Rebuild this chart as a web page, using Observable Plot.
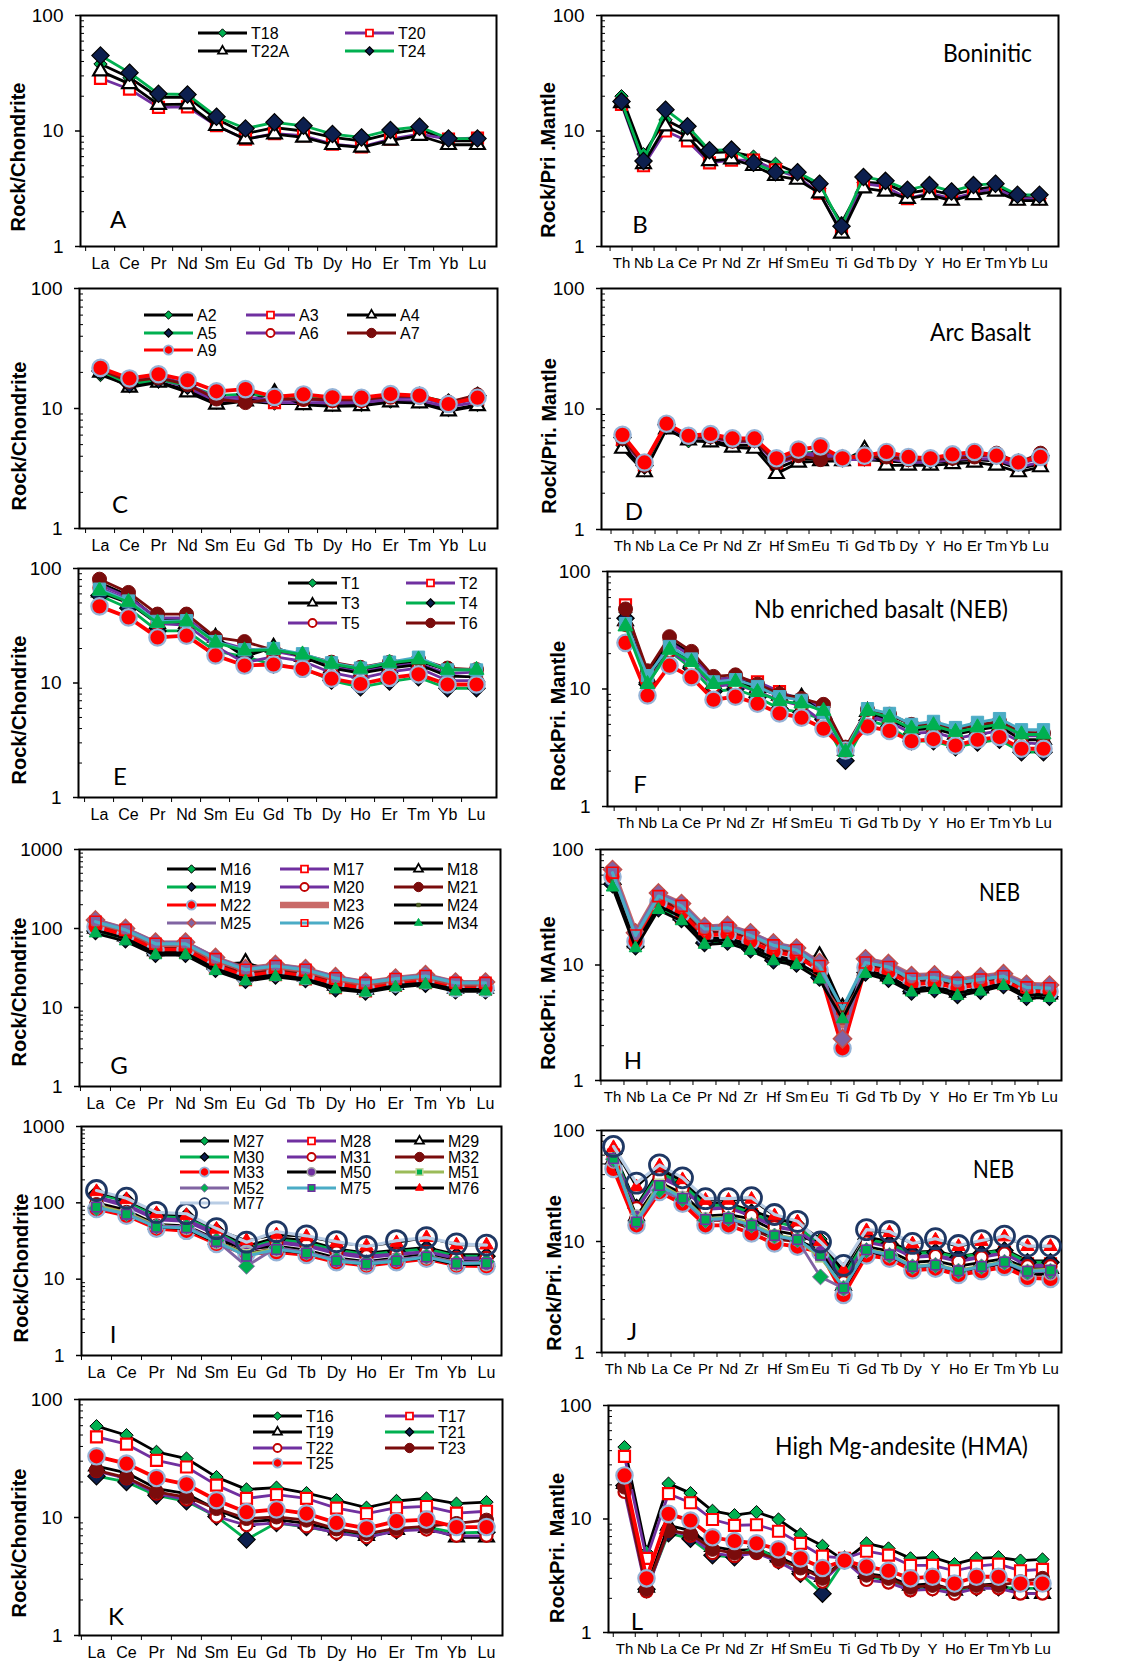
<!DOCTYPE html>
<html><head><meta charset="utf-8">
<script src="https://cdn.jsdelivr.net/npm/d3@7"></script>
<script src="https://cdn.jsdelivr.net/npm/@observablehq/plot@0.6"></script>
<style>
body{margin:0;background:#fff;}
#fig{position:relative;width:1121px;height:1663px;overflow:hidden;background:#fff;font-family:"Liberation Sans",Arial,sans-serif;}
</style></head><body><div id="fig"></div><script>
// ---------- categories ----------
const REE = ["La","Ce","Pr","Nd","Sm","Eu","Gd","Tb","Dy","Ho","Er","Tm","Yb","Lu"];
const PM = ["Th","Nb","La","Ce","Pr","Nd","Zr","Hf","Sm","Eu","Ti","Gd","Tb","Dy","Y","Ho","Er","Tm","Yb","Lu"];

// ---------- data (normalised values) ----------
const dataA = {
  T18: [38,29,19.6,19.6,12.7,9.5,10.7,10,8.8,8.2,9.5,10.4,8.2,8.2],
  T20: [28.6,23,16,16.2,11.1,8.5,9.5,9.1,7.7,7.3,8.5,9.4,8.5,8.7],
  T22A: [33,25.6,16.9,17.1,11.1,8.5,9.4,8.8,7.6,7.2,8.3,9.1,7.6,7.6],
  T24: [45,32,21,20.7,13.3,10.5,11.9,11.1,9.4,8.8,10.2,10.9,8.6,8.6]
};
const dataB = {
  T18: [20,6.3,12.5,10,6.5,6.6,6.0,5.2,4.3,3.2,1.6,3.6,3.5,2.9,3.1,2.8,3.1,3.3,2.7,2.6],
  T20: [17,5.0,10,8.2,5.3,5.6,5.6,4.6,4.0,2.9,1.35,3.5,3.3,2.6,2.9,2.6,2.9,3.2,2.6,2.6],
  T22A: [17.5,5.2,11,9,5.5,5.7,5.0,4.1,3.8,2.9,1.3,3.2,3.0,2.6,2.8,2.5,2.8,3.0,2.5,2.5],
  T24: [18,5.5,15.3,11,6.8,6.9,5.3,4.4,4.4,3.5,1.5,4.0,3.7,3.1,3.4,3.0,3.4,3.5,2.8,2.8]
};
const dataC = {
  A2: [19,15.6,16.7,14.2,11.2,11.5,11,11,10.7,10.7,11.4,11.4,9.7,10.7],
  A3: [21,16.5,17.5,15,11.5,12,11.2,11.2,11,11.2,11.7,11.6,10.3,11.3],
  A4: [20,15,16.5,13.7,10.8,11.5,13.5,10.7,10.4,10.5,11.3,11.1,9.5,10.5],
  A5: [20.5,16,17.5,15.5,12.8,13.2,12.8,12.5,12,11.8,13,12.8,11.2,12.8],
  A6: [21.5,17,18.5,16,12.2,12.5,11.7,11.8,11.5,11.5,12.3,12.3,10.7,12],
  A7: [21,16.8,18,15.8,12,11.2,12,12,11.8,11.8,12.6,12.6,11.3,13],
  A9: [21.8,17.8,19.3,17.2,13.9,14.5,12.5,13.1,12.4,12.3,13.2,12.8,10.9,12.3]
};
const dataD = {
  A2: [5.0,3.1,7.0,5.4,5.5,5.0,5.0,3.2,3.8,3.9,3.8,3.8,3.7,3.6,3.6,3.7,3.8,3.7,3.2,3.5],
  A3: [5.6,3.3,7.3,5.7,5.8,5.3,5.4,3.5,4.0,4.1,3.8,3.8,3.9,3.6,3.6,3.8,3.9,3.8,3.3,3.6],
  A4: [4.7,3.0,6.8,5.5,5.3,4.8,4.7,2.9,3.6,3.7,3.7,4.6,3.4,3.4,3.4,3.5,3.6,3.4,3.0,3.3],
  A5: [5.8,3.4,7.4,5.9,6.0,5.6,5.6,3.8,4.3,4.4,3.9,4.2,4.2,3.9,3.8,4.0,4.2,4.1,3.6,4.1],
  A6: [5.9,3.5,7.4,5.8,6.0,5.5,5.5,3.7,4.2,4.3,3.9,4.0,4.1,3.8,3.8,4.0,4.1,4.0,3.5,3.9],
  A7: [5.7,3.4,7.5,5.8,5.9,5.4,5.5,3.6,4.1,3.8,3.9,4.0,4.0,3.8,3.8,3.9,4.0,4.3,3.6,4.3],
  A9: [6.1,3.6,7.55,6.0,6.2,5.7,5.7,3.9,4.6,4.9,3.9,4.1,4.4,4.0,3.9,4.2,4.4,4.1,3.6,4.0]
};
const dataE = {
  T1: [75,58,36,36,24,18.5,19.8,17.5,14.5,13,14.5,15.5,13,13],
  T2: [72,56,37,37,23.5,20,19,17,13.8,12.5,13.8,14.8,12,12.5],
  T3: [62,50,33,33,25,17,20.5,17,13.5,12.2,13.5,14.5,11.5,11.3],
  T4: [58,45,28.5,28.5,19,17,14.5,13.5,10.5,9.2,10.3,11.2,9.0,9.0],
  T5: [68,53,33,32,21,15,17,15.5,12.3,11,12.5,13.5,10.5,10.5],
  T6: [80.7,61.8,40,40,25,23,19.4,17.7,15.2,13.7,15.2,16.2,13.5,13.1],
  x1: [46.7,37.4,25,25.9,17.4,14.2,14.5,13.3,10.9,9.8,11.1,11.9,9.7,9.7],
  x2: [66,52,34.5,35,23,19.5,20,18,15,13.5,15.2,16.8,13,13],
  x3: [64,51,33.5,34.5,22.5,19.2,19.5,17.7,14.7,13.3,15,16,13,13]
};
const dataF = {
  T1: [45,13.5,26,20,12,12.5,10.8,9,8.5,7,3.0,6.8,6.0,5.0,5.0,4.5,4.9,5.2,4.2,4.2],
  T2: [52,12,25,19,12,12.5,11.5,9.5,8,7,3.1,6,5.5,4.6,4.8,4.2,4.6,5,4,4],
  T3: [38,12.5,22,17,11,11.5,10.2,8.8,8.5,6.2,3.0,6.4,5.5,4.5,4.6,4.1,4.5,4.8,3.7,3.7],
  T4: [40,11,21,15,9.5,10,8.5,6.8,6.3,5.5,2.45,5.4,4.8,3.6,3.6,3.2,3.5,3.7,2.9,2.9],
  T5: [35,11.5,21,16,10.5,11,9.5,8,7.2,5.2,2.9,5.8,5.2,4.2,4.3,3.8,4.1,4.4,3.5,3.4],
  T6: [48,14.3,27.9,20.9,12.8,13.2,11,9.1,8.3,7.4,3.2,6.7,6.1,5.0,5.0,4.6,4.95,5.3,4.3,4.2],
  x1: [24.7,8.8,15.8,12.6,8.1,8.6,7.5,6.2,5.7,4.6,3.0,4.8,4.4,3.6,3.75,3.3,3.7,3.9,3.1,3.1],
  x2: [36,13,23,18,11.5,12,10.5,8.6,8.0,6.3,3.0,6.8,6.2,5.0,5.3,4.7,5.2,5.6,4.5,4.5],
  x3: [34,11,21.5,16.9,11,11.5,9.4,7.9,7.5,6.5,2.9,6.5,5.7,4.6,4.9,4.3,4.7,5.0,4.1,4.1]
};
const dataG = {
  M16: [97,76,50,50,32,24,26.5,24,18.5,16.5,19,20.5,17,17],
  M17: [102,80,51,51,32,22.5,26,23,17.8,16.2,19,20.7,17,17],
  M18: [100,80,52,52,35,37,28,25,19,17,19.5,21,17.5,17.5],
  M19: [93,73,48,48,31,22.5,25.5,23,17.5,16,18.5,20,16.5,16.5],
  M20: [120,94,62,63,40,29,33,29.5,23,20,22.5,24.5,20,20],
  M21: [110,86,57,57,36,27,30,27,21,18.5,21,23,18.5,18.5],
  M22: [105,82,54,54,34,25,28,25,20,17.5,20,22,17.5,17.5],
  M23: [123,96,64,64,41,30.5,33.5,30,23.5,20.3,23,25,20.3,20.3],
  M24: [95,75,49,49,31,23,26,23,18,16,19,20.5,17,17],
  M25: [128,100,67,67,43,31,35,31,24.5,21,23.5,26,21,21],
  M26: [122,96,64,64,41,30,33.5,30,23.5,20.5,23,25,20.5,20.5],
  M34: [87,69,46,46,29,21.5,24.5,22,17,15.5,18,19.5,16,16]
};
const dataH = {
  M16: [52,15,32,26,16,16.5,14,11.5,10.5,8,4.2,8.8,7.8,6.0,6.3,5.6,6.1,6.8,5.4,5.4],
  M17: [60,15.5,33,26,16.5,17,15,12,10.8,8,4.3,9,8,6.2,6.5,5.7,6.3,6.9,5.6,5.6],
  M18: [55,15.5,33,27,17,17,15,12,11,12,4.3,9,8,6.2,6.5,5.8,6.3,6.9,5.6,5.6],
  M19: [50,14.5,31,25,15.5,16,13.7,11,10.3,7.8,4.0,8.6,7.6,5.9,6.2,5.5,6.0,6.7,5.3,5.3],
  M20: [62,18,39,32,20,21,18,15,13.5,10,2.8,10.8,9.8,7.8,8,7.1,7.6,8.1,6.5,6.5],
  M21: [60,17,37,30,19,19.5,17,14,12.5,9.5,3.5,10,9.2,7.2,7.4,6.6,7.2,7.7,6.1,6.1],
  M22: [58,16,35,28,18,18.5,16,13,12,9,1.9,9.5,8.7,6.8,7,6.3,6.8,7.3,5.9,5.9],
  M23: [65,18.5,41,33.5,21,21.5,18.5,15,13.8,10.2,3.0,11,10.1,8,8.1,7.3,7.8,8.3,6.7,6.6],
  M24: [54,15,32.5,26,16,16.5,14,11.5,10.5,8.2,4.2,8.8,7.8,6.1,6.4,5.7,6.2,6.9,5.5,5.5],
  M25: [67,19,42,34,21.5,22,19,15.5,14,10.5,2.3,11.3,10.3,8.1,8.2,7.4,7.9,8.4,6.8,6.7],
  M26: [63,18,39.5,32.5,20.5,21,18,14.8,13.5,9.8,4.2,10.5,9.6,7.6,7.8,7.0,7.5,8.0,6.4,6.3],
  M34: [47,14,30,24,15,15.5,13.3,10.8,10,7.5,3.4,8.4,7.4,5.8,6.1,5.4,5.9,6.6,5.2,5.2]
};
const dataI = {
  M27: [135,108,70,67,44,27,35,32,25,22,24,26,21,21],
  M28: [115,90,60,57,38,23,30,27,21.5,19,21,22.5,18,18],
  M29: [100,80,52,50,33,25,27,24,19,17,19,21,17,17],
  M30: [130,105,67,65,42,25,33,30,24,21,23,25,20,20],
  M31: [120,95,62,60,40,24,31,28,22.5,20,21.5,23,19,19],
  M32: [95,75,50,48,31,22,25,22.5,18,16,18,19.5,16,16],
  M33: [83,68,46,43,29,21.5,22.6,20.8,16.7,15.1,16.7,18.5,15.1,14.8],
  M50: [90,72,48,46,30,22,24,22,17.5,15.5,17.5,19,15.5,15.5],
  M51: [92,74,50,48,31,21,25,22.5,17.5,16,17.5,20,16.5,16.5],
  M52: [85,72,49,49,32,14.8,26,22.5,18,16.5,18,20,16.5,17],
  M75: [88,71,48,47,31,20,24.5,22,17.3,15.8,17.3,19.5,16,16.2],
  M76: [140,110,72,68,45,32,38,36,30,27,30,35,28,28],
  M77: [145,115,75,72,46,30.5,42,37,31,26.8,32,35,29,28]
};
const dataJ = {
  M27: [65,21,44,35,22,22,19,16,14.5,10.5,5,11,10,8,8.2,7.3,7.9,8.5,6.7,6.7],
  M28: [60,19,40,31,20,20.5,17.5,14,12.5,9,4.5,10,9.2,7.3,7.6,6.8,7.4,8,6.3,6.3],
  M29: [55,17,34,27,17,17.5,16,12.5,11.5,9.5,4.0,9,8.2,6.5,6.7,6.0,6.5,7.0,5.7,5.7],
  M30: [62,20,42,33,21,21.5,18,15,13.5,9.5,4.8,10.5,9.5,7.8,8,7.2,7.8,8.3,6.5,6.5],
  M31: [58,20,38,30,19.5,20,17,13.5,12.5,9,4.3,9.8,9,7.2,7.4,6.6,7.2,7.8,6.0,6.0],
  M32: [50,16,31,24,15.5,15.5,13,10.5,10,8.5,3.6,8,7.3,5.8,6,5.3,5.8,6.3,5.0,5.0],
  M33: [45,14,27.9,21.9,14,14,11.8,9.6,9.0,8.0,3.3,7.5,7.0,5.5,5.7,5.0,5.4,5.9,4.7,4.6],
  M50: [52,17,32,25,16,16,14,11,10.3,8.2,3.7,8.2,7.4,5.9,6.1,5.4,5.9,6.4,5.1,5.1],
  M51: [57,15.5,33,25,16,16.5,14.5,11.5,10.5,7.2,3.9,8.5,7.7,6.0,6.2,5.5,6.0,6.6,5.5,5.6],
  M52: [55,15,29,24,15.5,16,14,11.2,10.3,4.8,3.8,8.3,7.5,5.9,6.1,5.4,5.9,6.5,5.3,5.4],
  M75: [56,15,32,24.5,15.8,16.2,14,11.3,10.4,7.5,3.8,8.4,7.6,5.95,6.15,5.45,5.95,6.55,5.4,5.5],
  M76: [70,31,48,36,23.5,23.5,24,17,15,10,5.5,12.5,12,9.5,10.3,9,10,11,9,9],
  M77: [71.8,33.6,49,37.5,24.3,24.3,24.8,17.5,15.2,9.9,6.1,12.8,12.3,9.6,10.6,9.2,10.2,11.2,9.1,9.1]
};
const dataK = {
  T16: [59.4,49.8,36,31.6,22,17.3,17.9,16.1,14,12.1,13.8,14.5,13.1,13.5],
  T17: [48.2,41.8,30.5,26.8,18.8,14.5,15.6,14.5,12,10.8,12.1,12.4,10.9,11.3],
  T19: [27.2,23.9,17.6,15.9,11.7,9.2,9.6,8.9,7.8,7.0,7.9,8.2,6.8,6.8],
  T21: [22.4,20,15.4,13.7,10.2,6.5,9.0,8.3,7.5,6.8,7.8,8.3,7.4,7.5],
  T22: [24.7,21.4,15.9,14.2,10.2,8.6,9.0,8.4,7.4,6.8,7.7,7.9,7.0,7.0],
  T23: [25.1,21.8,16.5,14.9,11.9,9.8,10.1,9.5,8.0,7.3,8.1,8.4,8.9,9.5],
  T25: [33,28.6,21.6,19.1,14,11.1,11.7,10.8,9.0,8.1,9.3,9.6,8.3,8.3]
};
const dataL = {
  T16: [43,5.1,20.5,16.9,11.8,10.8,11.5,9.9,7.3,5.8,4.3,6.1,5.5,4.5,4.6,4.0,4.5,4.6,4.3,4.4],
  T17: [35.6,4.5,16.7,13.9,9.9,8.8,8.9,7.8,6.1,4.7,4.5,5.2,4.8,3.9,3.9,3.5,3.85,4.0,3.5,3.6],
  T19: [20.5,2.5,8.8,7.9,5.7,5.3,5.4,4.6,3.8,3.1,4.3,3.3,3.1,2.6,2.7,2.35,2.6,2.7,2.2,2.2],
  T21: [19.7,2.4,7.5,6.7,4.8,4.6,5.7,4.3,3.3,2.2,4.3,3.1,2.9,2.45,2.5,2.3,2.5,2.5,2.45,2.45],
  T22: [17.3,2.3,7.9,7.1,5.0,4.7,5.0,4.2,3.3,2.8,4.3,2.9,2.75,2.35,2.4,2.2,2.45,2.45,2.2,2.2],
  T23: [19.1,2.4,7.9,7.4,5.4,5.0,5.1,4.4,3.7,3.0,4.3,3.2,3.0,2.5,2.6,2.4,2.6,2.6,2.8,3.0],
  T25: [24.2,3.0,11.1,9.7,6.9,6.4,6.1,5.4,4.5,3.7,4.3,3.8,3.5,3.0,3.1,2.7,3.1,3.1,2.7,2.7]
};

// ---------- series styles ----------
const STY = {
  bgd: {line:"#000000", lw:2.8, sym:"diamond2", fill:"#00b050", stroke:"#000", r:6, lr:3.8, sw:1},
  prs: {line:"#7030a0", lw:2.8, sym:"square2", fill:"#ffffff", stroke:"#ff0000", r:7, lr:4.4, sw:2.2},
  btr: {line:"#000000", lw:2.8, sym:"triangle2", fill:"#ffffff", stroke:"#000", r:7, lr:4.2, sw:2.2},
  gnd: {line:"#00b050", lw:2.8, sym:"diamond2", fill:"#0c1f4e", stroke:"#000", r:7.8, lr:3.8, sw:1.2},
  prc: {line:"#7030a0", lw:2.8, sym:"circle", fill:"#ffffff", stroke:"#c00000", r:6, lr:4, sw:2.2},
  mrc: {line:"#7a0c0c", lw:2.8, sym:"circle", fill:"#7a0c0c", stroke:"#7a0c0c", r:7, lr:4.7, sw:1},
  rdc: {line:"#ff0000", lw:3.8, sym:"circle", fill:"#ff0000", stroke:"#95b3d7", r:8.2, lr:4.6, sw:2.2},
  m23: {line:"#c0504d", lw:6.5, lo:0.85},
  m24: {line:"#000000", lw:2.8, sym:"square", fill:"#4f6228", stroke:"#4f6228", r:2, lr:1.9, sw:1},
  m25: {line:"#8064a2", lw:3.2, sym:"diamond2", fill:"#8064a2", stroke:"#c0504d", r:8.2, lr:3.8, sw:1.5},
  m26: {line:"#4bacc6", lw:3.2, sym:"square2", fill:"none", stroke:"#ff0000", r:7, lr:4.2, sw:1.6},
  m34: {line:"#000000", lw:2.8, sym:"triangle2", fill:"#00b050", stroke:"#00b050", r:6, lr:3.8, sw:1},
  m50: {line:"#000000", lw:2.8, sym:"circle", fill:"#7030a0", stroke:"#a6a6a6", r:6, lr:4.2, sw:1.5},
  m51: {line:"#9bbb59", lw:3.2, sym:"square2", fill:"#00b050", stroke:"#c3d69b", r:6, lr:4.2, sw:1.5},
  m52: {line:"#8064a2", lw:2.8, sym:"diamond2", fill:"#00b050", stroke:"#8064a2", r:7.2, lr:3.8, sw:1},
  m75: {line:"#4bacc6", lw:2.8, sym:"square2", fill:"#00b050", stroke:"#7030a0", r:6, lr:4.2, sw:1.5},
  m76: {line:"#000000", lw:2.2, sym:"triangle2", fill:"#ff0000", stroke:"#ff0000", r:6.5, lr:3.8, sw:1},
  m77: {line:"#b9cde5", lw:3.2, sym:"circle", fill:"none", stroke:"#1f3864", r:10, lr:4.8, sw:2.8},
  xte: {line:"#4bacc6", lw:2.8, sym:"square2", fill:"#4bacc6", stroke:"#4bacc6", r:7.8, sw:1},
  xgt: {line:"#00b050", lw:2.8, sym:"triangle2", fill:"#00b050", stroke:"#00b050", r:7.2, sw:1}
};
const styA = {T18:"bgd", T20:"prs", T22A:"btr", T24:"gnd"};
const styC = {A2:"bgd", A3:"prs", A4:"btr", A5:"gnd", A6:"prc", A7:"mrc", A9:"rdc"};
const styE = {T1:"bgd", T2:"prs", T3:"btr", T4:"gnd", T5:"prc", T6:"mrc", x1:"rdc", x2:"xte", x3:"xgt"};
const styG = {M16:"bgd", M17:"prs", M18:"btr", M19:"gnd", M20:"prc", M21:"mrc", M22:"rdc", M23:"m23", M24:"m24", M25:"m25", M26:"m26", M34:"m34"};
const styI = {M27:"bgd", M28:"prs", M29:"btr", M30:"gnd", M31:"prc", M32:"mrc", M33:"rdc", M50:"m50", M51:"m51", M52:"m52", M75:"m75", M76:"m76", M77:"m77"};
const styK = {T16:"bgd", T17:"prs", T19:"btr", T21:"gnd", T22:"prc", T23:"mrc", T25:"rdc"};

// ---------- layout ----------
const PANELS = [
 {cats:REE, ymax:100, frame:[80,15,496,246], data:dataA, sty:styA, ylab:"Rock/Chondrite", yl:[18,157], letter:["A",118,218],
  leg:{rows:[33,51], cols:[198,345], order:["T18","T20","T22A","T24"]}},
 {cats:PM, ymax:100, frame:[601,15,1058,246], data:dataB, sty:styA, ylab:"Rock/Pri .Mantle", yl:[548,160], letter:["B",640,223],
  note:["Boninitic",943,52,89]},
 {cats:REE, ymax:100, frame:[79,288,497,528], data:dataC, sty:styC, ylab:"Rock/Chondrite", yl:[19,436], letter:["C",120,503],
  leg:{rows:[315,333,350], cols:[144,246,347], order:["A2","A3","A4","A5","A6","A7","A9"]}},
 {cats:PM, ymax:100, frame:[601,288,1060,529], data:dataD, sty:styC, ylab:"Rock/Pri. Mantle", yl:[549,436], letter:["D",634,510],
  note:["Arc Basalt",930,331,101]},
 {cats:REE, ymax:100, frame:[78,568,496,797], data:dataE, sty:styE, ylab:"Rock/Chondrite", yl:[19,710], letter:["E",120,775],
  leg:{rows:[583,603,623], cols:[288,406], order:["T1","T2","T3","T4","T5","T6"]}},
 {cats:PM, ymax:100, frame:[607,571,1061,806], data:dataF, sty:styE, ylab:"RockPri. Mantle", yl:[558,716], letter:["F",640,783],
  note:["Nb enriched basalt (NEB)",754,608,254]},
 {cats:REE, ymax:1000, frame:[79,849,500,1086], data:dataG, sty:styG, ylab:"Rock/Chondrite", yl:[19,992], letter:["G",119,1064],
  leg:{rows:[869,887,905,923], cols:[167,280,394], order:["M16","M17","M18","M19","M20","M21","M22","M23","M24","M25","M26","M34"]}},
 {cats:PM, ymax:100, frame:[600,849,1061,1080], data:dataH, sty:styG, ylab:"RockPri. MAntle", yl:[548,993], letter:["H",633,1059],
  note:["NEB",979,891,41]},
 {cats:REE, ymax:1000, frame:[81,1126,501,1355], data:dataI, sty:styI, ylab:"Rock/Chondrite", yl:[21,1268], letter:["I",113,1333],
  leg:{rows:[1141,1157,1172,1188,1203], cols:[180,287,395], order:["M27","M28","M29","M30","M31","M32","M33","M50","M51","M52","M75","M76","M77"]}},
 {cats:PM, ymax:100, frame:[601,1130,1061,1352], data:dataJ, sty:styI, ylab:"Rock/Pri. Mantle", yl:[554,1273], letter:["J",632,1330],
  note:["NEB",973,1168,41]},
 {cats:REE, ymax:100, frame:[79,1399,502,1635], data:dataK, sty:styK, ylab:"Rock/Chondrite", yl:[19,1543], letter:["K",116,1615],
  leg:{rows:[1416,1432,1448,1463], cols:[253,385], order:["T16","T17","T19","T21","T22","T23","T25"]}},
 {cats:PM, ymax:100, frame:[608,1405,1058,1632], data:dataL, sty:styK, ylab:"RockPri. Mantle", yl:[557,1548], letter:["L",637,1620],
  note:["High Mg-andesite (HMA)",775,1445,253]}
];

const fig = document.getElementById("fig");
const ML = 50, MT = 10, MR = 12, MB = 34;

for (const p of PANELS) {
  const [x0,y0,x1,y1] = p.frame;
  const w = x1 - x0, h = y1 - y0;
  const step = w / p.cats.length;
  const xfs = p.cats.length > 14 ? 15 : 16;
  const majors = p.ymax === 1000 ? [1,10,100,1000] : [1,10,100];
  const minors = [];
  for (let d = 1; d < p.ymax; d *= 10) for (let k = 2; k <= 9; k++) minors.push(d * k);
  const marks = [
    Plot.frame({stroke:"#000", strokeWidth:2}),
    Plot.axisY({ticks: minors, tickSize: -4, tickFormat: () => "", label: null, strokeWidth: 1}),
    Plot.axisY({ticks: majors, tickSize: 5, tickPadding: 12, tickFormat: d => String(d), fontSize: 19, label: null, strokeWidth: 1.5}),
    Plot.axisX({tickSize: 5, dx: -step/2, tickFormat: () => "", label: null, strokeWidth: 1}),
    Plot.axisX({tickSize: 0, tickPadding: 11, fontSize: xfs, label: null})
  ];
  for (const name of Object.keys(p.data)) {
    const s = STY[p.sty[name]];
    const rows = p.cats.map((c, i) => ({el: c, v: p.data[name][i]}));
    marks.push(Plot.line(rows, {x: "el", y: "v", stroke: s.line, strokeWidth: s.lw, strokeOpacity: s.lo ?? 1}));
    if (s.sym) marks.push(Plot.dot(rows, {x: "el", y: "v", symbol: s.sym, r: s.r, fill: s.fill, stroke: s.stroke, strokeWidth: s.sw}));
  }
  const svg = Plot.plot({
    width: w + ML + MR, height: h + MT + MB,
    marginLeft: ML, marginTop: MT, marginRight: MR, marginBottom: MB,
    x: {type: "point", domain: p.cats, padding: 0.5},
    y: {type: "log", domain: [1, p.ymax]},
    style: {background: "transparent", fontFamily: "'Liberation Sans', Arial, sans-serif", color: "#000", overflow: "visible"},
    marks
  });
  svg.style.position = "absolute";
  svg.style.left = (x0 - ML) + "px";
  svg.style.top = (y0 - MT) + "px";
  fig.appendChild(svg);
}

// ---------- overlay: labels, legends, annotations ----------
const symMap = {circle: d3.symbolCircle, square2: d3.symbolSquare2, triangle2: d3.symbolTriangle2, diamond2: d3.symbolDiamond2, square: d3.symbolSquare};
const ov = d3.create("svg").attr("width", 1121).attr("height", 1663)
  .style("position", "absolute").style("left", "0px").style("top", "0px")
  .style("font-family", "'Liberation Sans', Arial, sans-serif");

for (const p of PANELS) {
  ov.append("text").attr("transform", `translate(${p.yl[0]},${p.yl[1]}) rotate(-90)`)
    .attr("text-anchor", "middle").attr("dominant-baseline", "central")
    .attr("font-size", 20).attr("font-weight", "bold").attr("fill", "#000").text(p.ylab);
  ov.append("text").attr("x", p.letter[1]).attr("y", p.letter[2])
    .attr("text-anchor", "middle").attr("dominant-baseline", "central")
    .attr("font-family", "Lato, 'Open Sans', sans-serif").attr("font-size", 24).attr("fill", "#000").text(p.letter[0]);
  if (p.note) {
    ov.append("text").attr("x", p.note[1]).attr("y", p.note[2])
      .attr("dominant-baseline", "central")
      .attr("font-family", "Lato, 'Open Sans', sans-serif").attr("font-size", 25).attr("fill", "#000")
      .attr("textLength", p.note[3]).attr("lengthAdjust", "spacingAndGlyphs").text(p.note[0]);
  }
  if (p.leg) {
    const nc = p.leg.cols.length;
    p.leg.order.forEach((name, i) => {
      const cx = p.leg.cols[i % nc], cy = p.leg.rows[Math.floor(i / nc)];
      const s = STY[p.sty[name]];
      ov.append("line").attr("x1", cx).attr("x2", cx + 49).attr("y1", cy).attr("y2", cy)
        .attr("stroke", s.line).attr("stroke-width", s.sym ? 3.2 : 6.5).attr("stroke-opacity", s.lo ?? 1);
      if (s.sym) {
        const r = s.lr ?? 4;
        ov.append("path").attr("transform", `translate(${cx + 24.5},${cy})`)
          .attr("d", d3.symbol(symMap[s.sym], Math.PI * r * r)())
          .attr("fill", s.fill).attr("stroke", s.stroke).attr("stroke-width", Math.min(s.sw, 1.8));
      }
      ov.append("text").attr("x", cx + 53).attr("y", cy).attr("dominant-baseline", "central")
        .attr("font-size", 16).attr("fill", "#000").text(name);
    });
  }
}
fig.appendChild(ov.node());
</script></body></html>
